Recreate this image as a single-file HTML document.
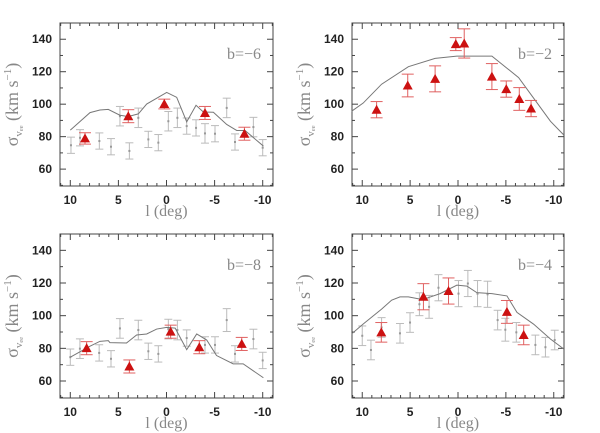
<!DOCTYPE html>
<html><head><meta charset="utf-8"><style>
body{margin:0;background:#fff;width:600px;height:433px;overflow:hidden}
svg{display:block}
.tk{font-family:"Liberation Sans",sans-serif;font-size:12px;fill:#222;font-weight:bold}
.ti{font-family:"Liberation Serif",serif;font-size:16px;fill:#888}
.yt{font-family:"Liberation Serif",serif;font-size:18px;fill:#888}
</style></head><body>
<svg id="c" width="600" height="433"></svg>
<script>
// b=-6
const tlLineL=[10,7.95,6.92,6.05,4.84,3.97,2.93,2.06,-0.02,-1.06,-2.1,-3.07,-3.83,-4.87,-6.26,-7.3,-8.16,-10.07];
const tlLineV=[84,94.8,96.4,96.8,93.2,92.4,94,100.1,107.2,104.2,89.1,99.3,95.2,95,87.5,83.8,83.8,74.2];
const tlRedL=[8.47,3.97,0.23,-4,-8.1];
const tlRedV=[78.9,92.6,100.1,94.6,81.8];
const tlRedE=[3.5,4,3,4,4];
const tlGrayL=[9.93,8.99,6.98,5.77,4.84,3.86,2.93,1.89,0.85,-0.19,-1.13,-2.1,-3.07,-4,-5.04,-6.26,-7.12,-9.03,-10];
const tlGrayV=[74.7,79.3,77.3,73.8,92.6,71.2,91.6,78.3,76.3,89.5,91.6,86.5,85.4,82,81.8,97.7,76.7,85.9,73.2];
const tlGrayE=[5,5,5,5,6,5,6,5,5,6,6,5,5,6,5,6,5,6,5];
// b=-2
const trLineL=[11.12,9.9,7.98,5.18,2.39,0.12,-3.54,-6.33,-7.9,-9.65,-11.05];
const trLineV=[95.6,100.7,112.3,123.1,128.2,129.6,129.6,116.4,103.7,89.5,81];
const trRedL=[8.5,5.25,2.39,0.23,-0.65,-3.54,-5.04,-6.4,-7.63];
const trRedV=[96.6,111.5,115.6,137,137.4,117,109.3,103.2,97.3];
const trRedE=[5,7,8,4,9,8,5,7,5];
const trGrayL=[],trGrayV=[],trGrayE=[];
// b=-8
const blLineL=[10,7.95,6.92,6.05,5.88,4.15,3.11,2.06,1.02,-0.02,-0.9,-2.1,-3.14,-4.18,-5.2,-6.93,-7.97,-10.07];
const blLineV=[74.6,81.3,84.3,84.7,83.5,83.3,88.2,88.8,91.8,92.8,92.4,79.2,88.8,85.1,75.6,70.5,70.5,62];
const blRedL=[8.3,3.86,-0.43,-3.41,-7.82];
const blRedV=[80.1,68.9,90.2,80.7,82.7];
const blRedE=[4,4,4,4,4];
const blGrayL=[10,9,7,5.77,4.84,2.93,1.89,0.85,-0.19,-1.13,-2.1,-4,-5.04,-6.26,-7.12,-9.03,-10];
const blGrayV=[74.6,79.8,77.2,73.6,92.2,91.2,78.2,76.6,91.8,91.2,86.3,82.1,82.1,97.3,76.6,85.7,72.6];
const blGrayE=[5,6,5,5,6,6,5,5,6,6,5,5,5,7,5,6,5];
// b=-4
const brLineL=[11.12,9.9,7.98,6.93,6.06,5.18,3.96,3.26,1.87,0.12,-0.93,-1.97,-3.54,-5.11,-6.16,-7.9,-9.65,-11.05];
const brLineV=[88.8,94.9,104,109.5,111.5,111.5,110.1,110.7,113.5,118.7,118.1,114.1,113.5,112.1,102,94.8,85.7,79.6];
const brRedL=[8.01,3.61,0.99,-5.11,-6.86];
const brRedV=[89.8,111.6,115.1,102.3,88.2];
const brRedE=[6,8,8,7,6];
const brGrayL=[10,9.09,7.98,6.06,5.01,4.03,3.02,2.04,-0.05,-1.03,-2.04,-3.09,-4.14,-4.94,-6.09,-8.08,-9.13,-10.1];
const brGrayV=[87.7,79,92.8,89.2,95.8,107,105.4,117.1,113.5,119.7,113.5,113.1,97.3,91.4,89.8,82.1,80.7,85.1];
const brGrayE=[6,6,6,6,6,7,7,8,8,8,8,8,6,7,6,6,6,6];
const yTicks=[60,80,100,120,140];
const xTicks=[10,5,0,-5,-10];
const xTickLabels=["10","5","0","-5","-10"];

const NS="http://www.w3.org/2000/svg";
const svg=document.getElementById('c');
function mk(t,a,p){const e=document.createElementNS(NS,t);for(const k in a)e.setAttribute(k,a[k]);(p||svg).appendChild(e);return e;}

const panels=[
 {id:'b6',x0:60,x1:273,y0:23,y1:186,lab:'b=\u22126',L:tlLineL,V:tlLineV,rL:tlRedL,rV:tlRedV,rE:tlRedE,gL:tlGrayL,gV:tlGrayV,gE:tlGrayE},
 {id:'b2',x0:352,x1:564,y0:23,y1:186,lab:'b=\u22122',L:trLineL,V:trLineV,rL:trRedL,rV:trRedV,rE:trRedE,gL:trGrayL,gV:trGrayV,gE:trGrayE},
 {id:'b8',x0:60,x1:273,y0:234,y1:398,lab:'b=\u22128',L:blLineL,V:blLineV,rL:blRedL,rV:blRedV,rE:blRedE,gL:blGrayL,gV:blGrayV,gE:blGrayE},
 {id:'b4',x0:352,x1:564,y0:234,y1:398,lab:'b=\u22124',L:brLineL,V:brLineV,rL:brRedL,rV:brRedV,rE:brRedE,gL:brGrayL,gV:brGrayV,gE:brGrayE}
];
panels.forEach(p=>{
  const g=mk('g',{});
  
  
  const xs=l=>p.x0+(11.07-l)/22.14*(p.x1-p.x0);
  const ys=v=>p.y1-(v-49.6)/100.4*(p.y1-p.y0);
  const fr=mk('rect',{x:p.x0,y:p.y0,width:p.x1-p.x0,height:p.y1-p.y0,fill:'none',stroke:'#444','stroke-width':1},g);
  
  
  for(let v=50;v<=150;v+=10){const y=ys(v);const len=(v%20==0)?6:3;
    mk('line',{x1:p.x0,x2:p.x0+len,y1:y,y2:y,stroke:'#444'},g);
    mk('line',{x1:p.x1,x2:p.x1-len,y1:y,y2:y,stroke:'#444'},g);}
  for(let l=-11;l<=11;l++){const x=xs(l);const len=(l%5==0)?6:3;
    mk('line',{x1:x,x2:x,y1:p.y1,y2:p.y1-len,stroke:'#444'},g);
    mk('line',{x1:x,x2:x,y1:p.y0,y2:p.y0+len,stroke:'#444'},g);}
  yTicks.forEach(v=>{const t=mk('text',{x:p.x0-8,y:ys(v)+4,'text-anchor':'end',class:'tk'},g);t.textContent=v;
    
    });
  xTicks.forEach((l,i)=>{const t=mk('text',{x:xs(l),y:p.y1+18,'text-anchor':'middle',class:'tk'},g);t.textContent=xTickLabels[i];
    
    });
  const cy=(p.y0+p.y1)/2;
  const yt=mk('text',{transform:`translate(${p.x0-42},${cy}) rotate(-90)`,'text-anchor':'middle',class:'yt'},g);
  yt.innerHTML='\u03c3<tspan font-size="11" dy="4">v\u2091\u2091</tspan><tspan dy="-4"> (km  s</tspan><tspan font-size="11" dy="-7">\u22121</tspan><tspan dy="7">)</tspan>';
  
  
  const xt=mk('text',{x:(p.x0+p.x1)/2,y:p.y1+30,'text-anchor':'middle',class:'ti'},g);xt.textContent='l (deg)';
  
  
  const lb=mk('text',{x:p.x1-12,y:p.y0+36,'text-anchor':'end',class:'ti'},g);lb.textContent=p.lab;
  
  
  p.gL.forEach((l,i)=>{const x=xs(l),y=ys(p.gV[i]),e=p.gE[i];
    const gg=mk('g',{stroke:'#bbb','stroke-width':1},g);
    
    
    mk('line',{x1:x,x2:x,y1:ys(p.gV[i]-e),y2:ys(p.gV[i]+e)},gg);
    mk('line',{x1:x-4,x2:x+4,y1:ys(p.gV[i]-e),y2:ys(p.gV[i]-e)},gg);
    mk('line',{x1:x-4,x2:x+4,y1:ys(p.gV[i]+e),y2:ys(p.gV[i]+e)},gg);
    mk('rect',{x:x-1,y:y-1,width:2,height:2,fill:'#999',stroke:'none'},gg);});
  const ln=mk('polyline',{points:p.L.map((l,i)=>xs(l)+','+ys(p.V[i])).join(' '),fill:'none',stroke:'#777','stroke-width':1},g);
  
  
  p.rL.forEach((l,i)=>{const x=xs(l),y=ys(p.rV[i]),e=p.rE[i];
    const gg=mk('g',{stroke:'#e06060','stroke-width':1},g);
    
    
    mk('line',{x1:x,x2:x,y1:ys(p.rV[i]-e),y2:ys(p.rV[i]+e)},gg);
    mk('line',{x1:x-6,x2:x+6,y1:ys(p.rV[i]-e),y2:ys(p.rV[i]-e)},gg);
    mk('line',{x1:x-6,x2:x+6,y1:ys(p.rV[i]+e),y2:ys(p.rV[i]+e)},gg);
    mk('polygon',{points:`${x},${y-5} ${x-5},${y+4} ${x+5},${y+4}`,fill:'#cc1111',stroke:'none'},gg);});
});
</script>
</body></html>
